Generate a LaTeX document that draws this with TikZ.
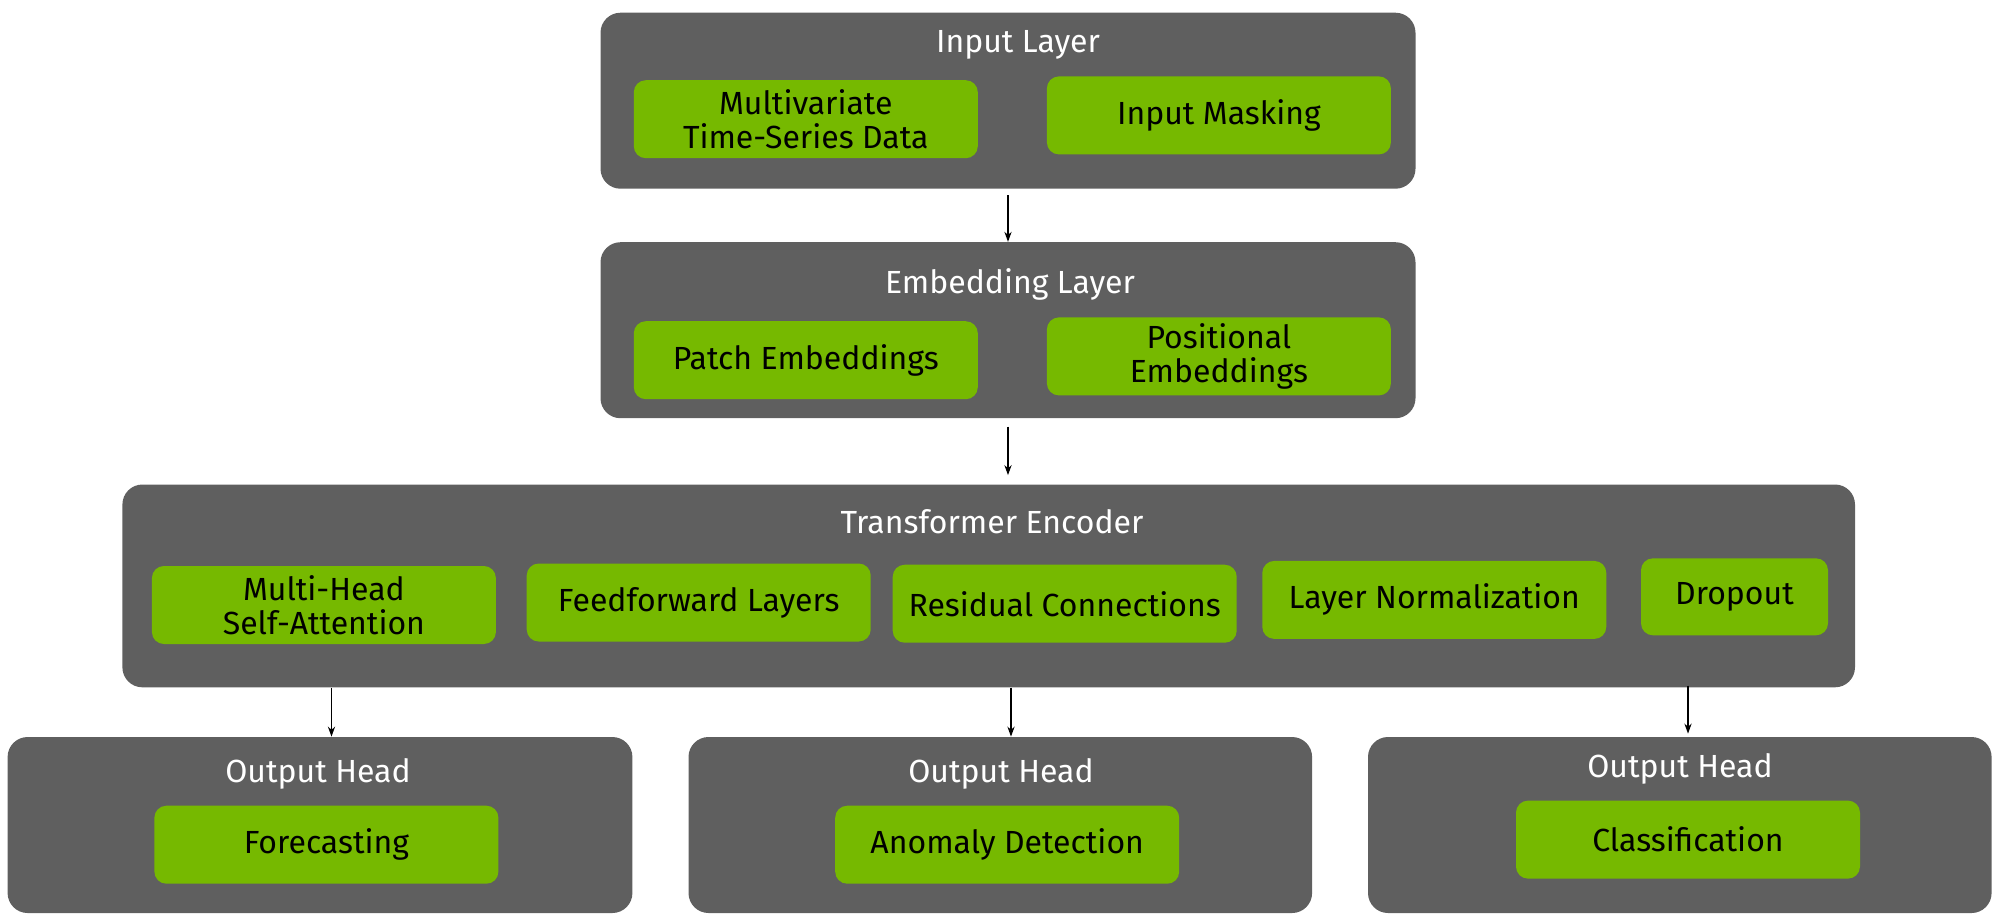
\documentclass[tikz,border=0pt]{standalone}
\usepackage{fontspec}
\setmainfont{Fira Sans}
\usetikzlibrary{arrows.meta,calc}
\definecolor{boxgray}{HTML}{5F5F5F}
\definecolor{nvgreen}{HTML}{76B900}
\tikzset{
  outerbox/.style={draw=none,fill=boxgray,rounded corners=10pt,inner sep=0pt},
  innerbox/.style={draw=none,fill=nvgreen,rounded corners=6pt,inner sep=0pt,
    minimum width=172pt,minimum height=39pt,align=center,text=black,
    font=\fontsize{16}{16.8}\selectfont},
  titletext/.style={text=white,font=\fontsize{16}{16.8}\selectfont,inner sep=0pt},
  arr/.style={-{Stealth[length=5pt,width=3.6pt]},line width=0.7pt,black}
}
\begin{document}
\begin{tikzpicture}[x=0.5pt,y=-0.5pt]
\useasboundingbox (0,0) rectangle (1999,918);
% outer boxes
\node[outerbox,minimum width=407.5pt,minimum height=88pt] (IL) at (1008,100.7) {};
\node[outerbox,minimum width=407.5pt,minimum height=88pt] (EL) at (1008,330.2) {};
\node[outerbox,minimum width=866.3pt,minimum height=101.4pt] (TE) at (988.7,585.9) {};
\node[outerbox,minimum width=312.4pt,minimum height=88pt] (OH1) at (320,825) {};
\node[outerbox,minimum width=311.8pt,minimum height=88pt] (OH2) at (1000.3,825) {};
\node[outerbox,minimum width=311.8pt,minimum height=88pt] (OH3) at (1679.8,825) {};
% titles
\node[titletext] (ILt) at (1018,44.6) {Input Layer};
\node[titletext] (ELt) at (1010,284) {Embedding Layer};
\node[titletext] (TEt) at (992,521.5) {Transformer Encoder};
\node[titletext] (OH1t) at (318,774) {Output Head};
\node[titletext] (OH2t) at (1001,774) {Output Head};
\node[titletext] (OH3t) at (1680,769) {Output Head};
% inner boxes
\node[innerbox] (MV) at (805.8,119.2) {Multivariate\\Time-Series Data};
\node[innerbox] (IM) at (1218.9,115.4) {Input Masking};
\node[innerbox] (PE) at (805.8,360.2) {Patch Embeddings};
\node[innerbox] (PO) at (1218.9,356.4) {Positional\\Embeddings};
\node[innerbox] (MH) at (323.9,605) {Multi-Head\\Self-Attention};
\node[innerbox] (FF) at (698.7,602.5) {Feedforward Layers};
\node[innerbox] (RC) at (1064.7,603.7) {Residual Connections};
\node[innerbox] (LN) at (1434.3,599.9) {Layer Normalization};
\node[innerbox,minimum width=93.5pt,minimum height=38.5pt] (DO) at (1734.5,596.8) {Dropout};
\node[innerbox] (FC) at (326.4,844.7) {Forecasting};
\node[innerbox] (AD) at (1007.2,844.7) {Anomaly Detection};
\node[innerbox] (CL) at (1688,839.6) {Classification};
% connectors
\draw[arr,shorten <=3pt] (IL.south) -- (EL.north);
\draw[arr,shorten <=4pt,shorten >=4.5pt] (EL.south) -- (EL.south |- TE.north);
\draw[arr] ([xshift=5.75pt]OH1.north |- TE.south) -- ([xshift=5.75pt]OH1.north);
\draw[arr] ([xshift=5.35pt]OH2.north |- TE.south) -- ([xshift=5.35pt]OH2.north);
\draw[arr,shorten <=-1pt,shorten >=1.5pt] ([xshift=4.1pt]OH3.north |- TE.south) -- ([xshift=4.1pt]OH3.north);
\end{tikzpicture}
\end{document}
